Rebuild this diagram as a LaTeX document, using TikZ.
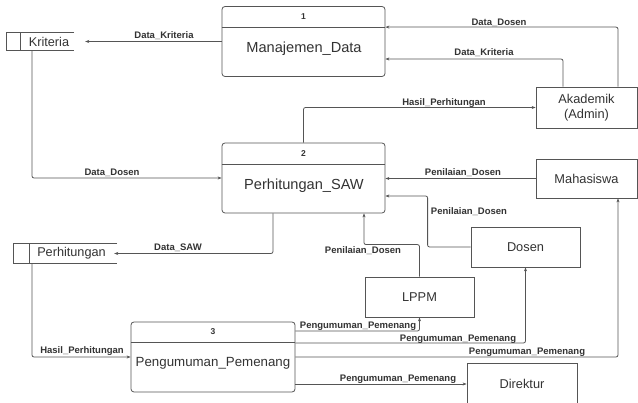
\documentclass[tikz,border=0pt]{standalone}
\usepackage{fontspec}
\setmainfont{Liberation Sans}
\usetikzlibrary{calc,arrows.meta}
\definecolor{ln}{HTML}{555555}
\definecolor{tx}{HTML}{333333}
\begin{document}
\begin{tikzpicture}[x=1pt,y=-1pt,
  proc/.style={draw=ln, rounded corners=3pt, minimum width=163pt, minimum height=70pt, inner sep=0pt, line width=0.8pt},
  ent/.style={draw=ln, inner sep=0pt, line width=0.8pt, font=\fontsize{12.8}{15}\selectfont, text=tx, align=center},
  storebox/.style={inner sep=0pt},
  storetxt/.style={inner sep=0pt, font=\fontsize{12.7}{15}\selectfont, text=tx},
  ptitle/.style={inner sep=0pt, font=\fontsize{14.6}{17}\selectfont, text=tx},
  pnum/.style={inner sep=0pt, font=\fontsize{8.5}{10}\selectfont\bfseries, text=tx},
  flow/.style={draw=ln, line width=0.8pt, -{Stealth[length=4pt,width=3pt]}, rounded corners=2pt},
  lbl/.style={inner sep=0pt, font=\fontsize{9.5}{11}\selectfont\bfseries, text=tx},
  sline/.style={draw=ln, line width=0.8pt}
]
\useasboundingbox (0,0) rectangle (638,403);
\fill[white] (0,0) rectangle (638,403);

% processes
\node[proc] (p1) at (303.5,41.5) {};
\draw[sline] ($(p1.north west)+(0,21)$) -- ($(p1.north east)+(0,21)$);
\node[pnum] (p1n) at ($(p1.north)+(0,10)$) {1};
\node[ptitle] (p1t) at (304,49) {Manajemen\_Data};

\node[proc] (p2) at (303.5,178) {};
\draw[sline] ($(p2.north west)+(0,22)$) -- ($(p2.north east)+(0,22)$);
\node[pnum] (p2n) at ($(p2.north)+(0,11)$) {2};
\node[ptitle] (p2t) at (304,186) {Perhitungan\_SAW};

\node[proc, minimum width=164pt] (p3) at (213,357) {};
\draw[sline] ($(p3.north west)+(0,21)$) -- ($(p3.north east)+(0,21)$);
\node[pnum] (p3n) at ($(p3.north)+(0,10)$) {3};
\node[ptitle, font=\fontsize{13.3}{16}\selectfont] (p3t) at (213,363) {Pengumuman\_Pemenang};

% data stores
\node[storebox, minimum width=67pt, minimum height=17pt] (kri) at (40.5,41.5) {};
\draw[sline] (kri.north east) -- (kri.north west) -- (kri.south west) -- (kri.south east);
\draw[sline] ([xshift=14pt]kri.north west) -- ([xshift=14pt]kri.south west);
\node[storetxt] (krit) at (49,41.5) {Kriteria};

\node[storebox, minimum width=103pt, minimum height=19pt] (per) at (65.5,253.5) {};
\draw[sline] (per.north east) -- (per.north west) -- (per.south west) -- (per.south east);
\draw[sline] ([xshift=16pt]per.north west) -- ([xshift=16pt]per.south west);
\node[storetxt] (pert) at (71.5,253.5) {Perhitungan};

% external entities
\node[ent, minimum width=101pt, minimum height=41pt] (aka) at (586.5,107.5) {Akademik\\(Admin)};
\node[ent, minimum width=101pt, minimum height=39pt] (mah) at (586.5,178.5) {Mahasiswa};
\node[ent, minimum width=109pt, minimum height=40pt] (dos) at (525.5,247) {Dosen};
\node[ent, minimum width=109pt, minimum height=40pt] (lppm) at (419.5,297) {LPPM};
\node[ent, minimum width=110pt, minimum height=42pt] (dir) at (522,384) {Direktur};

% flows
\draw[flow, shorten >=11pt] (p1.west) -- (kri.east);
\node[lbl] at (164,36) {Data\_Kriteria};

\draw[flow] ([xshift=31.5pt]aka.north) |- ($(p1.north east)+(0,21)$);
\node[lbl] at (499,23) {Data\_Dosen};

\draw[flow] ([xshift=-23.5pt]aka.north) |- ([yshift=-17.5pt]p1.east);
\node[lbl] at (484,53) {Data\_Kriteria};

\draw[flow] (p2.north) |- (aka.west);
\node[lbl] at (444,103) {Hasil\_Perhitungan};

\draw[flow] ([xshift=-8.5pt]kri.south) |- (p2.west);
\node[lbl] at (112,173) {Data\_Dosen};

\draw[flow] (mah.west) -- (p2.east |- mah.west);
\node[lbl] at (463,173) {Penilaian\_Dosen};

\draw[flow] (dos.west) -- ++(-43,0) |- ([yshift=-18pt]p2.east);
\node[lbl] at (469,212) {Penilaian\_Dosen};

\draw[flow] (lppm.north) -- ++(0,-32) -| ([xshift=60.5pt]p2.south);
\node[lbl] at (363,251) {Penilaian\_Dosen};

\draw[flow, shorten >=-3pt] ([xshift=-30.5pt]p2.south) |- (per.east);
\node[lbl] at (178,248) {Data\_SAW};

\draw[flow] ([xshift=-33.5pt]per.south) |- (p3.west);
\node[lbl] at (82,351) {Hasil\_Perhitungan};

\draw[flow] ([yshift=26pt]p3.east) -| (lppm.south);
\node[lbl] at (358,326) {Pengumuman\_Pemenang};

\draw[flow] ([yshift=14pt]p3.east) -| (dos.south);
\node[lbl] at (458,339) {Pengumuman\_Pemenang};

\draw[flow] (p3.east) -| ([xshift=31.5pt]mah.south);
\node[lbl] at (527,352) {Pengumuman\_Pemenang};

\draw[flow] ([yshift=-27pt]p3.east) -- (dir.west);
\node[lbl] at (398,379) {Pengumuman\_Pemenang};
\end{tikzpicture}
\end{document}
